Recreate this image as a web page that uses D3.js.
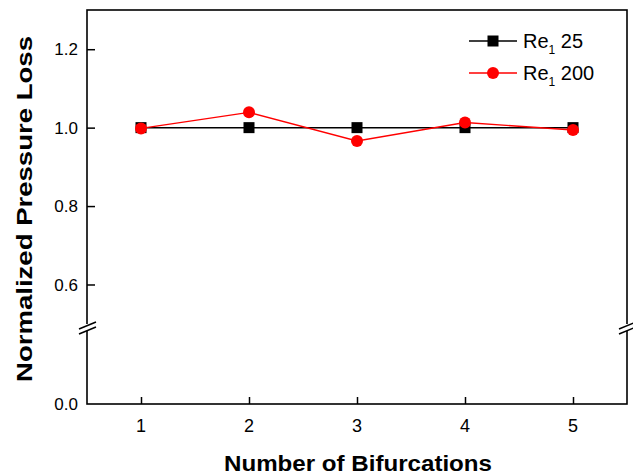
<!DOCTYPE html>
<html>
<head>
<meta charset="utf-8">
<script src="https://cdn.jsdelivr.net/npm/d3@7"></script>
<style>
  body { margin: 0; background: #fff; }
  text { font-family: "Liberation Sans", Arial, sans-serif; }
</style>
</head>
<body>
<script>
const wid = 633, hei = 475;
const padL = 87, padR = 627, padT = 10, padB = 404;

// data
const bifurcations = [1, 2, 3, 4, 5];
const re25 = [1.0, 1.0, 1.0, 1.0, 1.0];
const re200 = [0.998, 1.039, 0.966, 1.013, 0.994];
const yTicksUpper = [0.6, 0.8, 1.0, 1.2];
const yTicksLower = [0.0];
const seriesNames = ['25', '200'];

const svg = d3.select('body').append('svg')
  .attr('width', wid).attr('height', hei);

const x = d3.scaleLinear().domain([0.5, 5.5]).range([padL, padR]);
// broken y axis: upper part and lower part
const yUp = d3.scaleLinear().domain([0.5, 1.3]).range([323.7, padT]);
const yLo = d3.scaleLinear().domain([0, 0.186]).range([padB, 331]);

// frame
svg.append('rect')
  .attr('x', padL).attr('y', padT)
  .attr('width', padR - padL).attr('height', padB - padT)
  .attr('fill', 'none').attr('stroke', '#000').attr('stroke-width', 1.6);

// y ticks (inside)
const yAxisUp = d3.axisRight(yUp).tickValues(yTicksUpper).tickSize(8).tickFormat('');
const gy = svg.append('g').attr('transform', `translate(${padL},0)`).call(yAxisUp);
gy.select('.domain').remove();
gy.selectAll('line').attr('stroke-width', 1.5);

svg.selectAll('.ylab')
  .data(yTicksUpper.map(v => ({v, y: yUp(v)})).concat(yTicksLower.map(v => ({v, y: yLo(v)}))))
  .enter().append('text')
  .attr('x', padL - 9).attr('y', d => d.y)
  .attr('dy', '0.36em')
  .attr('text-anchor', 'end')
  .attr('font-size', 17)
  .text(d => d3.format('.1f')(d.v));

// x ticks (inside)
const xAxis = d3.axisTop(x).tickValues(bifurcations).tickSize(7).tickFormat('');
const gx = svg.append('g').attr('transform', `translate(0,${padB})`).call(xAxis);
gx.select('.domain').remove();
gx.selectAll('line').attr('stroke-width', 1.5);

svg.selectAll('.xlab').data(bifurcations).enter().append('text')
  .attr('x', d => x(d)).attr('y', padB + 28)
  .attr('text-anchor', 'middle')
  .attr('font-size', 18)
  .text(d => d);

// axis break marks
[padL, padR].forEach(ax => {
  svg.append('rect').attr('x', ax - 2).attr('y', 324).attr('width', 4).attr('height', 7).attr('fill', '#fff');
  [0, 5].forEach(off => {
    svg.append('line')
      .attr('x1', ax - 8).attr('y1', 329 + off)
      .attr('x2', ax + 9).attr('y2', 322 + off)
      .attr('stroke', '#000').attr('stroke-width', 1.5);
  });
});

// lines
const line = d3.line().x((d, i) => x(bifurcations[i])).y(d => yUp(d));

svg.append('path').datum(re25)
  .attr('d', line).attr('fill', 'none')
  .attr('stroke', '#000').attr('stroke-width', 1.5);
svg.selectAll('.sq').data(re25).enter().append('rect')
  .attr('x', (d, i) => x(bifurcations[i]) - 5.5)
  .attr('y', d => yUp(d) - 5.5)
  .attr('width', 11).attr('height', 11)
  .attr('fill', '#000');

svg.append('path').datum(re200)
  .attr('d', line).attr('fill', 'none')
  .attr('stroke', '#ff0000').attr('stroke-width', 1.4);
svg.selectAll('.dot').data(re200).enter().append('circle')
  .attr('cx', (d, i) => x(bifurcations[i]))
  .attr('cy', d => yUp(d))
  .attr('r', 6)
  .attr('fill', '#ff0000');

// legend
const legend = svg.append('g');
seriesNames.forEach((name, i) => {
  const ly = 41 + i * 32;
  const col = i === 0 ? '#000' : '#ff0000';
  legend.append('line').attr('x1', 469).attr('x2', 517).attr('y1', ly).attr('y2', ly)
    .attr('stroke', col).attr('stroke-width', 1.5);
  if (i === 0) {
    legend.append('rect').attr('x', 493 - 5.5).attr('y', ly - 5.5).attr('width', 11).attr('height', 11).attr('fill', col);
  } else {
    legend.append('circle').attr('cx', 493).attr('cy', ly).attr('r', 6).attr('fill', col);
  }
  const t = legend.append('text').attr('x', 523).attr('y', ly + 7).attr('font-size', 20);
  t.append('tspan').text('Re');
  t.append('tspan').attr('font-size', 12).attr('dy', 6).text('1');
  t.append('tspan').attr('dy', -6).text(' ' + name);
});

// axis titles
svg.append('text')
  .attr('x', 358).attr('y', 471)
  .attr('text-anchor', 'middle')
  .attr('font-size', 22).attr('font-weight', 'bold')
  .attr('textLength', 268).attr('lengthAdjust', 'spacingAndGlyphs')
  .text('Number of Bifurcations');

svg.append('text')
  .attr('transform', `translate(32,209) rotate(-90)`)
  .attr('text-anchor', 'middle')
  .attr('font-size', 22).attr('font-weight', 'bold')
  .attr('textLength', 346).attr('lengthAdjust', 'spacingAndGlyphs')
  .text('Normalized Pressure Loss');
</script>
</body>
</html>
